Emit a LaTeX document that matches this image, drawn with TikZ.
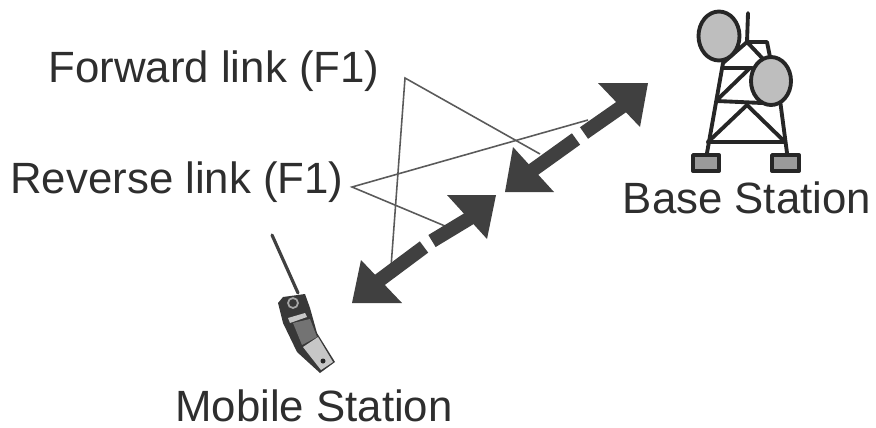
\documentclass[tikz,border=0pt]{standalone}
\usepackage{fontspec}
\setmainfont{Liberation Sans}
\definecolor{darkhead}{HTML}{404040}
\definecolor{thinline}{HTML}{5A5A5A}
\definecolor{dishgray}{HTML}{BEBEBE}
\definecolor{footgray}{HTML}{9A9A9A}
\definecolor{labelgray}{HTML}{2E2E2E}
\begin{document}
\begin{tikzpicture}[x=0.01cm,y=-0.01cm]
\tikzset{ inner sep=0pt, outer sep=0pt,
  linklabel/.style={text=labelgray, anchor=base, font=\fontsize{12.45}{15}\selectfont},
  callout/.style={thinline, line width=0.45pt},
  shaft/.style={darkhead, line width=4pt},
  head/.style={fill=darkhead, draw=none},
  tower/.style={line width=1.1pt, black!85, line cap=round, line join=round},
  }
\useasboundingbox (0,0) rectangle (876,427);
%\draw [lightgray, dashed](0,0) grid (876,427);

\node [linklabel] (FL) at (214,82)  {Forward link (F1)};
\node [linklabel] (RL) at (177,193) {Reverse link (F1)};
\node [linklabel] (BS) at (747,213) {Base Station};
\node [linklabel] (MS) at (314,421) {Mobile Station};

% callout lines
\coordinate (FA) at (405,78);
\coordinate (RA) at (352,187);
\coordinate (F1) at (540,154);
\coordinate (F2) at (391,267);
\coordinate (R1) at (588,120);
\coordinate (R2) at (445,226);

\draw [callout] (F1) -- (FA) -- (F2);
\draw [callout] (R1) -- (RA) -- (R2);

% upper double arrow
\coordinate (UT) at (627,103);
\coordinate (UG) at (584,133);
\coordinate (UH) at (576,139);
\coordinate (UB) at (530,172);
\draw [shaft] (UT) -- (UG);
\draw [shaft] (UH) -- (UB);
\fill [head] (648,83) -- (598,83) -- (640,127) -- cycle;
\fill [head] (505,192) -- (513,147) -- (554,192) -- cycle;

% lower double arrow
\coordinate (LT) at (475,215);
\coordinate (LG) at (432,241);
\coordinate (LH) at (424,247);
\coordinate (LB) at (377,282);
\draw [shaft] (LT) -- (LG);
\draw [shaft] (LH) -- (LB);
\fill [head] (496,195) -- (447,195) -- (487,239) -- cycle;
\fill [head] (352,303) -- (361,260) -- (402,303) -- cycle;

% tower
\coordinate (TP) at (747,42);
\draw [tower] (748,13) -- (TP) -- (767,42) -- (770,57);
\draw [tower] (TP) -- (723,63) -- (707,153);
\draw [tower] (TP) -- (764,60);
\draw [tower] (780,100) -- (787,153);
\draw [tower] (723,68) -- (752,68);
\draw [tower] (717,101) -- (762,103);
\draw [tower] (708,142) -- (785,142);
\draw [tower] (717,100) -- (750,68);
\draw [tower] (708,142) -- (747,105) -- (785,142);
\draw [tower, fill=dishgray] (719,36) ellipse (20.5 and 24.5);
\draw [tower, fill=dishgray] (771,81) ellipse (20 and 24);
\draw [tower, fill=footgray] (693,155) rectangle (719,171);
\draw [tower, fill=footgray] (772,155) rectangle (799,171);

% phone
\draw [black!75, line width=0.9pt, line cap=round] (272,235) -- (298,293);
\fill [black!78] (278,303) -- (283,297) -- (305,294) -- (310,308) -- (317,333)
  -- (335,362) -- (320,373) -- (297,352) -- (283,323) -- cycle;
\fill [black!22] (303,347) -- (318,337) -- (333,362) -- (321,370) -- cycle;
\fill [black!22] (288,318) -- (305,313) -- (307,317) -- (290,323) -- cycle;
\fill [black!55] (293,323) -- (310,319) -- (317,337) -- (302,345) -- cycle;
\draw [black!35, line width=0.5pt] (293,303) circle (5);
\fill [black!85] (323,361) circle (2.5);

\end{tikzpicture}
\end{document}
